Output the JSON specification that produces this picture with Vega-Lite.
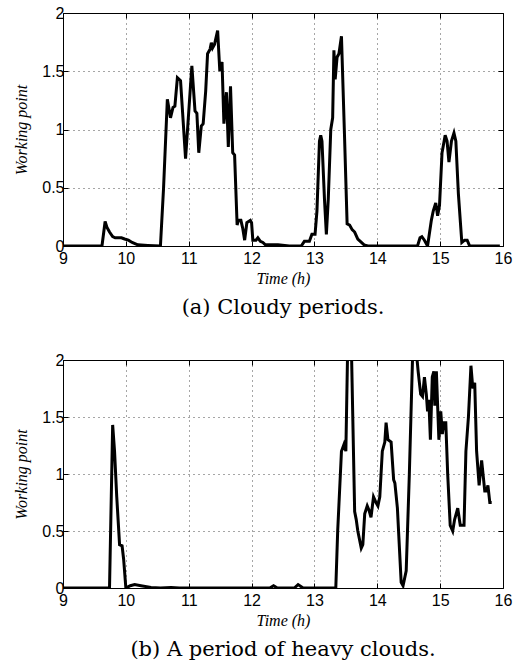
{
  "$schema": "https://vega.github.io/schema/vega-lite/v6.json",
  "background": "white",
  "padding": {"left": 13, "top": 4, "right": 10, "bottom": 0},
  "config": {
    "view": {"stroke": "black", "strokeWidth": 1},
    "axis": {
      "labelFont": "Liberation Sans",
      "labelFontSize": 16,
      "labelColor": "black",
      "titleFont": "Liberation Serif",
      "titleFontStyle": "italic",
      "titleFontWeight": "normal",
      "titleFontSize": 16,
      "titleColor": "black",
      "domain": false,
      "tickColor": "black",
      "tickSize": -5,
      "gridColor": "#000000",
      "gridOpacity": 0.7,
      "gridDash": [1, 4],
      "gridWidth": 1,
      "labelFlush": false,
      "labelOverlap": false
    },
    "title": {
      "font": "DejaVu Serif",
      "fontSize": 21,
      "fontWeight": "normal",
      "color": "black",
      "orient": "bottom",
      "anchor": "middle"
    }
  },
  "datasets": {
    "a": [
      {"t": 9.0, "v": 0}, {"t": 9.62, "v": 0}, {"t": 9.67, "v": 0.21}, {"t": 9.70, "v": 0.16},
      {"t": 9.74, "v": 0.12}, {"t": 9.79, "v": 0.08}, {"t": 9.83, "v": 0.07}, {"t": 9.87, "v": 0.07},
      {"t": 9.93, "v": 0.07}, {"t": 9.98, "v": 0.06}, {"t": 10.04, "v": 0.05}, {"t": 10.10, "v": 0.03},
      {"t": 10.19, "v": 0.01}, {"t": 10.35, "v": 0.005}, {"t": 10.55, "v": 0}, {"t": 10.60, "v": 0.5},
      {"t": 10.66, "v": 1.26}, {"t": 10.71, "v": 1.10}, {"t": 10.75, "v": 1.19}, {"t": 10.78, "v": 1.20},
      {"t": 10.82, "v": 1.445}, {"t": 10.87, "v": 1.42}, {"t": 10.95, "v": 0.75}, {"t": 11.05, "v": 1.546},
      {"t": 11.10, "v": 1.16}, {"t": 11.13, "v": 1.14}, {"t": 11.16, "v": 0.80}, {"t": 11.20, "v": 1.03},
      {"t": 11.23, "v": 1.05}, {"t": 11.27, "v": 1.33}, {"t": 11.30, "v": 1.65}, {"t": 11.34, "v": 1.69},
      {"t": 11.36, "v": 1.745}, {"t": 11.38, "v": 1.70}, {"t": 11.41, "v": 1.73}, {"t": 11.46, "v": 1.85},
      {"t": 11.495, "v": 1.5}, {"t": 11.53, "v": 1.58}, {"t": 11.56, "v": 1.05}, {"t": 11.60, "v": 1.32},
      {"t": 11.63, "v": 0.85}, {"t": 11.665, "v": 1.37}, {"t": 11.70, "v": 0.8}, {"t": 11.73, "v": 0.78},
      {"t": 11.77, "v": 0.18}, {"t": 11.79, "v": 0.22}, {"t": 11.83, "v": 0.22}, {"t": 11.86, "v": 0.15},
      {"t": 11.89, "v": 0.05}, {"t": 11.925, "v": 0.2}, {"t": 11.98, "v": 0.22}, {"t": 12.0, "v": 0.2},
      {"t": 12.02, "v": 0.05}, {"t": 12.07, "v": 0.05}, {"t": 12.10, "v": 0.07}, {"t": 12.14, "v": 0.04},
      {"t": 12.18, "v": 0.03}, {"t": 12.22, "v": 0.01}, {"t": 12.42, "v": 0.01}, {"t": 12.6, "v": 0},
      {"t": 12.79, "v": 0}, {"t": 12.84, "v": 0.04}, {"t": 12.92, "v": 0.04}, {"t": 12.96, "v": 0.1},
      {"t": 13.01, "v": 0.1}, {"t": 13.04, "v": 0.3}, {"t": 13.08, "v": 0.9}, {"t": 13.10, "v": 0.95},
      {"t": 13.12, "v": 0.9}, {"t": 13.16, "v": 0.4}, {"t": 13.19, "v": 0.1}, {"t": 13.22, "v": 0.4},
      {"t": 13.26, "v": 1.0}, {"t": 13.29, "v": 1.1}, {"t": 13.31, "v": 1.68}, {"t": 13.33, "v": 1.43},
      {"t": 13.36, "v": 1.62}, {"t": 13.39, "v": 1.65}, {"t": 13.43, "v": 1.8}, {"t": 13.48, "v": 0.92},
      {"t": 13.52, "v": 0.19}, {"t": 13.56, "v": 0.18}, {"t": 13.60, "v": 0.14}, {"t": 13.64, "v": 0.12},
      {"t": 13.69, "v": 0.06}, {"t": 13.73, "v": 0.04}, {"t": 13.79, "v": 0.01}, {"t": 13.85, "v": 0},
      {"t": 14.64, "v": 0}, {"t": 14.68, "v": 0.07}, {"t": 14.71, "v": 0.08}, {"t": 14.75, "v": 0.05},
      {"t": 14.80, "v": 0}, {"t": 14.86, "v": 0.22}, {"t": 14.89, "v": 0.3}, {"t": 14.93, "v": 0.37},
      {"t": 14.96, "v": 0.26}, {"t": 14.99, "v": 0.35}, {"t": 15.03, "v": 0.8}, {"t": 15.08, "v": 0.95},
      {"t": 15.11, "v": 0.9}, {"t": 15.14, "v": 0.72}, {"t": 15.18, "v": 0.9}, {"t": 15.22, "v": 0.97},
      {"t": 15.25, "v": 0.9}, {"t": 15.29, "v": 0.45}, {"t": 15.345, "v": 0.03}, {"t": 15.39, "v": 0.05},
      {"t": 15.43, "v": 0.05}, {"t": 15.47, "v": 0}, {"t": 15.95, "v": 0}
    ],
    "b": [
      {"t": 9.0, "v": 0}, {"t": 9.74, "v": 0}, {"t": 9.79, "v": 1.43}, {"t": 9.82, "v": 1.2},
      {"t": 9.855, "v": 0.8}, {"t": 9.90, "v": 0.38}, {"t": 9.94, "v": 0.37}, {"t": 9.965, "v": 0.25},
      {"t": 10.0, "v": 0}, {"t": 10.07, "v": 0.02}, {"t": 10.14, "v": 0.03}, {"t": 10.24, "v": 0.02},
      {"t": 10.40, "v": 0.005}, {"t": 10.55, "v": 0}, {"t": 10.72, "v": 0.005}, {"t": 10.85, "v": 0},
      {"t": 12.29, "v": 0}, {"t": 12.35, "v": 0.02}, {"t": 12.41, "v": 0}, {"t": 12.68, "v": 0},
      {"t": 12.74, "v": 0.03}, {"t": 12.82, "v": 0}, {"t": 13.34, "v": 0}, {"t": 13.37, "v": 0.5},
      {"t": 13.43, "v": 1.2}, {"t": 13.47, "v": 1.26}, {"t": 13.50, "v": 1.2}, {"t": 13.535, "v": 2.3},
      {"t": 13.56, "v": 2.4}, {"t": 13.585, "v": 2.2}, {"t": 13.64, "v": 0.67}, {"t": 13.665, "v": 0.6},
      {"t": 13.69, "v": 0.5}, {"t": 13.745, "v": 0.35}, {"t": 13.77, "v": 0.38}, {"t": 13.80, "v": 0.65},
      {"t": 13.84, "v": 0.72}, {"t": 13.87, "v": 0.68}, {"t": 13.90, "v": 0.62}, {"t": 13.94, "v": 0.8},
      {"t": 13.98, "v": 0.75}, {"t": 14.01, "v": 0.72}, {"t": 14.04, "v": 0.8}, {"t": 14.08, "v": 1.2},
      {"t": 14.12, "v": 1.28}, {"t": 14.14, "v": 1.45}, {"t": 14.17, "v": 1.3}, {"t": 14.22, "v": 1.28},
      {"t": 14.26, "v": 0.95}, {"t": 14.28, "v": 0.92}, {"t": 14.32, "v": 0.7}, {"t": 14.38, "v": 0.05},
      {"t": 14.41, "v": 0.02}, {"t": 14.46, "v": 0.15}, {"t": 14.51, "v": 1.0}, {"t": 14.565, "v": 2.1},
      {"t": 14.59, "v": 2.3}, {"t": 14.625, "v": 2.05}, {"t": 14.65, "v": 1.9}, {"t": 14.69, "v": 1.7},
      {"t": 14.72, "v": 1.68}, {"t": 14.75, "v": 1.85}, {"t": 14.78, "v": 1.7}, {"t": 14.80, "v": 1.55},
      {"t": 14.82, "v": 1.65}, {"t": 14.845, "v": 1.3}, {"t": 14.875, "v": 1.85}, {"t": 14.90, "v": 1.9},
      {"t": 14.915, "v": 1.6}, {"t": 14.94, "v": 1.9}, {"t": 14.98, "v": 1.3}, {"t": 15.01, "v": 1.55},
      {"t": 15.035, "v": 1.35}, {"t": 15.06, "v": 1.45}, {"t": 15.09, "v": 1.45}, {"t": 15.12, "v": 1.0},
      {"t": 15.16, "v": 0.55}, {"t": 15.20, "v": 0.5}, {"t": 15.23, "v": 0.6}, {"t": 15.28, "v": 0.7},
      {"t": 15.32, "v": 0.55}, {"t": 15.38, "v": 0.55}, {"t": 15.41, "v": 1.2}, {"t": 15.45, "v": 1.5},
      {"t": 15.49, "v": 1.95}, {"t": 15.52, "v": 1.75}, {"t": 15.55, "v": 1.8}, {"t": 15.58, "v": 1.2},
      {"t": 15.62, "v": 0.9}, {"t": 15.66, "v": 1.12}, {"t": 15.71, "v": 0.85}, {"t": 15.74, "v": 0.85},
      {"t": 15.76, "v": 0.9}, {"t": 15.79, "v": 0.75}, {"t": 15.82, "v": 0.75}
    ]
  },
  "spacing": -6,
  "vconcat": [
    {
      "width": 440,
      "height": 233,
      "title": {"text": "(a)  Cloudy periods.", "offset": 11},
      "data": {"name": "a"},
      "layer": [
        {
          "mark": {"type": "line", "color": "black", "strokeWidth": 3, "clip": true},
          "encoding": {
            "x": {"field": "t", "type": "quantitative", "scale": {"domain": [9, 16], "nice": false},
              "axis": {"orient": "bottom", "values": [9, 10, 11, 12, 13, 14, 15, 16], "title": "Time (h)", "labelPadding": 9, "titlePadding": 4, "grid": true}},
            "y": {"field": "v", "type": "quantitative", "scale": {"domain": [0, 2], "nice": false},
              "axis": {"orient": "left", "values": [0, 0.5, 1, 1.5, 2], "format": "~g", "title": "Working point", "labelPadding": 4, "titlePadding": 12, "grid": true}}
          }
        },
        {
          "mark": {"type": "line", "opacity": 0},
          "encoding": {
            "x": {"field": "t", "type": "quantitative",
              "axis": {"orient": "top", "values": [9, 10, 11, 12, 13, 14, 15, 16], "labels": false, "title": null, "grid": false}},
            "y": {"field": "v", "type": "quantitative",
              "axis": {"orient": "right", "values": [0, 0.5, 1, 1.5, 2], "labels": false, "title": null, "grid": false}}
          }
        }
      ]
    },
    {
      "width": 440,
      "height": 228,
      "title": {"text": "(b)  A period of heavy clouds.", "offset": 11},
      "data": {"name": "b"},
      "layer": [
        {
          "mark": {"type": "line", "color": "black", "strokeWidth": 3, "clip": true},
          "encoding": {
            "x": {"field": "t", "type": "quantitative", "scale": {"domain": [9, 16], "nice": false},
              "axis": {"orient": "bottom", "values": [9, 10, 11, 12, 13, 14, 15, 16], "title": "Time (h)", "labelPadding": 9, "titlePadding": 4, "grid": true}},
            "y": {"field": "v", "type": "quantitative", "scale": {"domain": [0, 2], "nice": false},
              "axis": {"orient": "left", "values": [0, 0.5, 1, 1.5, 2], "format": "~g", "title": "Working point", "labelPadding": 4, "titlePadding": 12, "grid": true}}
          }
        },
        {
          "mark": {"type": "line", "opacity": 0},
          "encoding": {
            "x": {"field": "t", "type": "quantitative",
              "axis": {"orient": "top", "values": [9, 10, 11, 12, 13, 14, 15, 16], "labels": false, "title": null, "grid": false}},
            "y": {"field": "v", "type": "quantitative",
              "axis": {"orient": "right", "values": [0, 0.5, 1, 1.5, 2], "labels": false, "title": null, "grid": false}}
          }
        }
      ]
    }
  ]
}
